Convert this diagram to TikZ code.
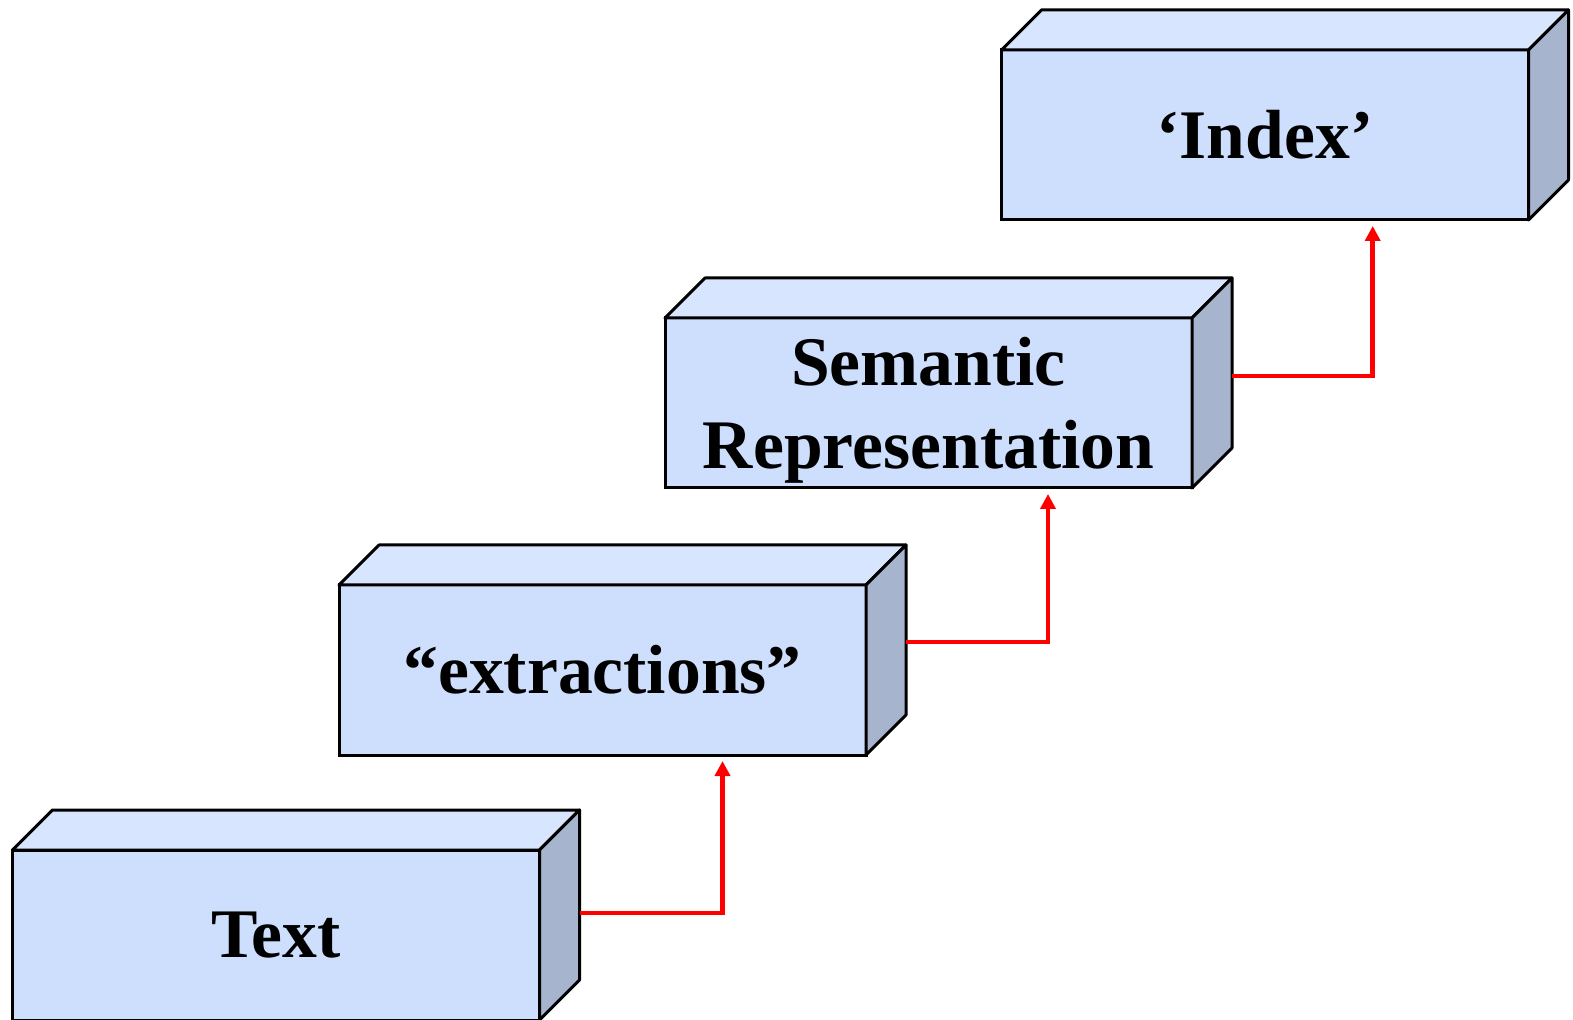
\documentclass[tikz,border=0pt]{standalone}
\usepackage{fontspec}
\setmainfont{Liberation Serif}
\usetikzlibrary{arrows.meta}
\definecolor{frontblue}{HTML}{CEDEFD}
\definecolor{topblue}{HTML}{D8E5FF}
\definecolor{sideblue}{HTML}{A6B4CE}
\tikzset{block/.style = {draw, rectangle, fill = frontblue, line width = 1.5pt, inner sep = 0pt, outer sep = 0pt,
                         minimum width = 263.5pt, minimum height = 85pt, align = center,
                         font = \fontsize{34.8}{41.5}\selectfont\bfseries},
         face/.style = {draw, line width = 1.5pt, line join = round},
         link/.style = {draw = red, line width = 2.3pt, -{Triangle[length = 7.5pt, width = 7.5pt]}, shorten > = 3pt},
}
\begin{document}
\begin{tikzpicture}[x = 0.5pt, y = -0.5pt]
  \useasboundingbox (0,0) rectangle (1573,1020);

  % front faces
  \node[block] (txt)  at (276,935)     {Text};
  \node[block] (extr) at (602.5,670)   {“extractions”};
  \node[block] (sem)  at (928.5,403)   {\rule{0pt}{31pt}Semantic\\Representation};
  \node[block] (idx)  at (1265,135)    {‘Index’};

  % top and side faces
  \foreach \b in {txt,extr,sem,idx}{
    \draw[face, fill = topblue] (\b.north west) -- ++(40,-40) -- ([shift = {(40,-40)}]\b.north east) -- (\b.north east) -- cycle;
    \draw[face, fill = sideblue] (\b.north east) -- ++(40,-40) -- ([shift = {(40,-40)}]\b.south east) -- (\b.south east) -- cycle;
  }

  \draw[link] ([shift = {(40,-22)}]txt.east) -| ([shift = {(120,0)}]extr.south);
  \draw[link] ([shift = {(40,-28)}]extr.east) -| ([shift = {(119.5,0)}]sem.south);
  \draw[link] ([shift = {(40,-27)}]sem.east) -| ([shift = {(107.7,0)}]idx.south);

\end{tikzpicture}
\end{document}
